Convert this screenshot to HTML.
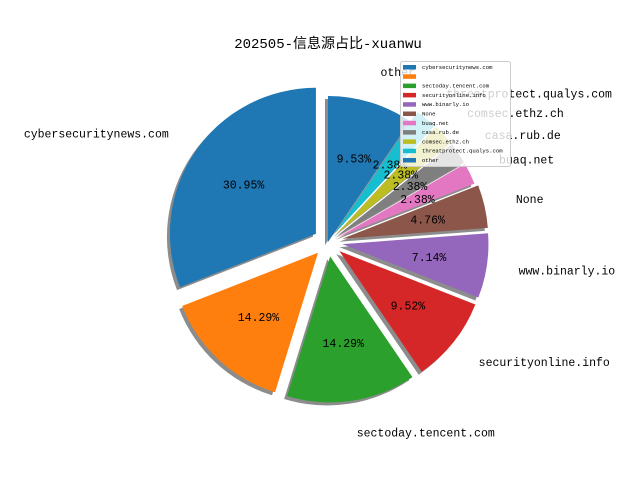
<!DOCTYPE html>
<html><head><meta charset="utf-8"><style>
html,body{margin:0;padding:0;background:#fff;}
svg{display:block;}
text{font-family:"Liberation Mono","Noto Sans CJK SC",monospace;}
</style></head>
<body>
<svg id="chart" width="640" height="480" viewBox="0 0 640 480">
<text x="328" y="48" text-anchor="middle" font-size="14">202505-信息源占比-xuanwu</text>
<g id="shadows"></g>
<g id="wedges"></g>
<g id="labels"></g>
<g id="legend"></g>
</svg>
<script>
const categories = ["cybersecuritynews.com","","sectoday.tencent.com","securityonline.info","www.binarly.io","None","buaq.net","casa.rub.de","comsec.ethz.ch","threatprotect.qualys.com","other"];
const values = [13,6,6,4,3,2,1,1,1,1,4];
const pctLabels = ["30.95%","14.29%","14.29%","9.52%","7.14%","4.76%","2.38%","2.38%","2.38%","2.38%","9.53%"];
const explode = [0.1,0.1,0.1,0.1,0.1,0.1,0.08,0.08,0.08,0.08,0];
const colors = ["#1f77b4","#ff7f0e","#2ca02c","#d62728","#9467bd","#8c564b","#e377c2","#7f7f7f","#bcbd22","#17becf","#1f77b4"];

const NS="http://www.w3.org/2000/svg";
const cx=328, cy=242, R=146, startAngle=90;
const total=values.reduce((a,b)=>a+b,0);
function pt(c,r,deg){const a=deg*Math.PI/180;return [c[0]+r*Math.cos(a), c[1]-r*Math.sin(a)];}
function mk(tag,attrs){const e=document.createElementNS(NS,tag);for(const k in attrs)e.setAttribute(k,attrs[k]);return e;}
function wedgePath(c,a0,a1){
  const p0=pt(c,R,a0),p1=pt(c,R,a1);const large=(a1-a0)>180?1:0;
  return `M${c[0]},${c[1]} L${p0[0]},${p0[1]} A${R},${R} 0 ${large} 0 ${p1[0]},${p1[1]} Z`;
}
const sh=document.getElementById('shadows'),wg=document.getElementById('wedges'),lb=document.getElementById('labels');
let ang=startAngle;
values.forEach((v,i)=>{
  const span=v/total*360, a0=ang, a1=ang+span, mid=(a0+a1)/2; ang=a1;
  const c=pt([cx,cy],explode[i]*R,mid);
  const s=mk('path',{d:wedgePath([c[0]-3,c[1]+3],a0,a1),fill:'#000','fill-opacity':'0.45'});
  
  
  sh.appendChild(s);
  const w=mk('path',{d:wedgePath(c,a0,a1),fill:colors[i]});
  
  
  wg.appendChild(w);
  const pp=pt(c,0.6*R,mid);
  const pt1=mk('text',{x:pp[0],y:pp[1]+4,'text-anchor':'middle','font-size':'11.5'});
  pt1.textContent=pctLabels[i];
  
  
  lb.appendChild(pt1);
  const lp=pt(c,1.22*R,mid);
  const t=mk('text',{x:lp[0],y:lp[1]+4,'text-anchor':lp[0]>=c[0]?'start':'end','font-size':'11.5'});
  t.textContent=categories[i];
  
  
  lb.appendChild(t);
});
// legend
const lg=document.getElementById('legend');
const box=mk('rect',{x:400.5,y:61.5,width:110,height:105,rx:2,fill:'#fff','fill-opacity':'0.8',stroke:'#ccc','stroke-width':'1'});


lg.appendChild(box);
categories.forEach((cat,i)=>{
  const y=66+i*9.3;
  const r=mk('rect',{x:403,y:y-1,width:13,height:4.5,fill:colors[i]});
  
  
  lg.appendChild(r);
  const t=mk('text',{x:422,y:y+3,'font-size':'5.6'});
  t.textContent=cat;
  
  
  lg.appendChild(t);
});
</script>
</body></html>
